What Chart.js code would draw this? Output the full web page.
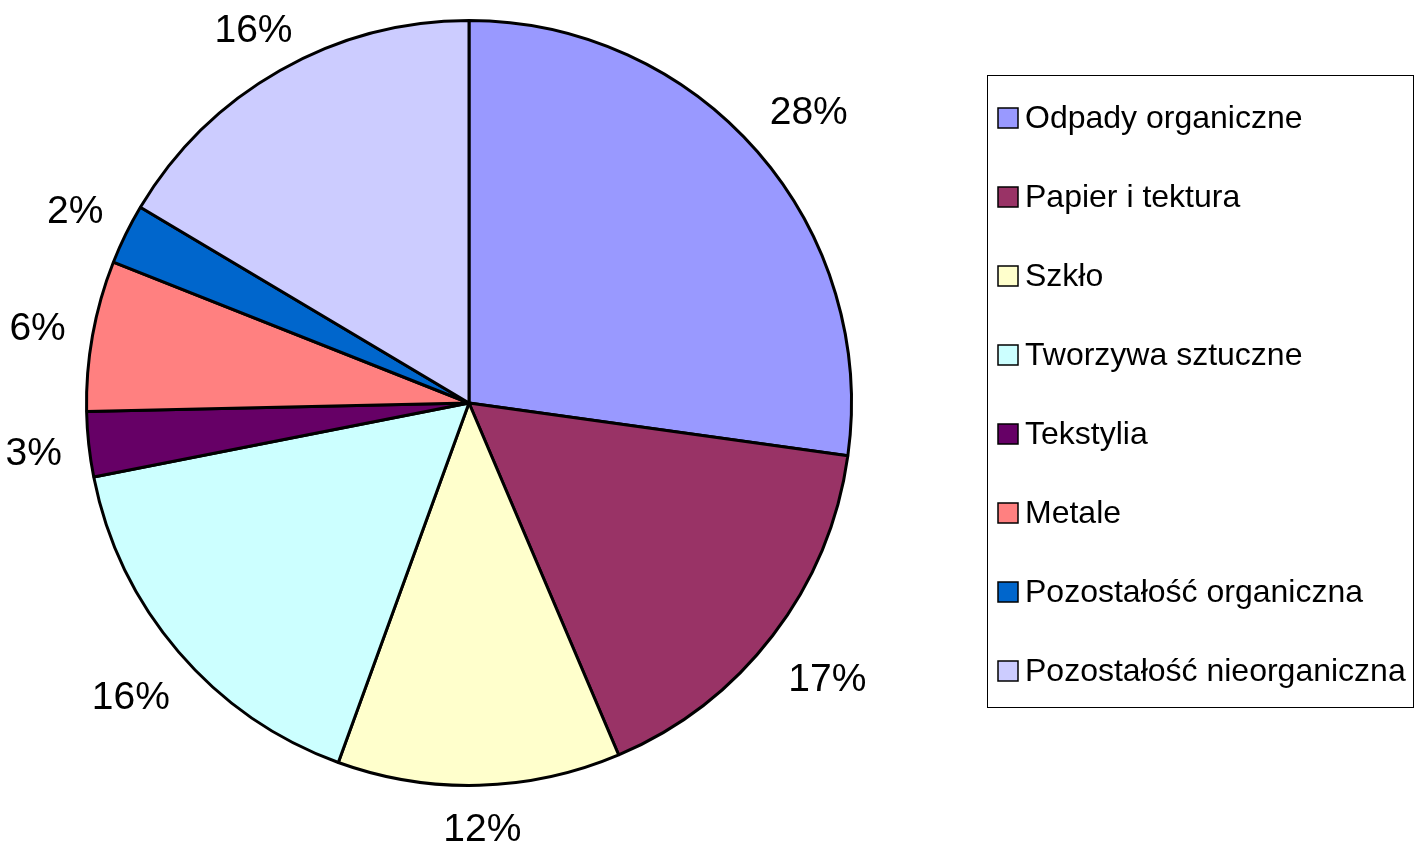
<!DOCTYPE html>
<html>
<head>
<meta charset="utf-8">
<script src="https://cdn.jsdelivr.net/npm/chart.js@4/dist/chart.umd.min.js"></script>
<style>
  html, body { margin: 0; padding: 0; background: #fff; }
  #wykres { display: block; }
</style>
</head>
<body>
<canvas id="wykres" width="1415" height="850"></canvas>
<script>
// kategorie odpadow
const kategorie = [
    "Odpady organiczne",
    "Papier i tektura",
    "Szkło",
    "Tworzywa sztuczne",
    "Tekstylia",
    "Metale",
    "Pozostałość organiczna",
    "Pozostałość nieorganiczna"
];
// udzialy (wielkosc wycinkow)
const udzialy = [27.2, 16.4, 11.95, 16.35, 2.75, 6.35, 2.55, 16.45];
// etykiety procentowe pokazane przy wycinkach
const etykiety = ["28%", "17%", "12%", "16%", "3%", "6%", "2%", "16%"];
const kolory = ["#9999FF", "#993366", "#FFFFCC", "#CCFFFF", "#660066", "#FF8080", "#0066CC", "#CCCCFF"];

const czcionka = "'Liberation Sans', Arial, sans-serif";

// etykiety procentow na zewnatrz wycinkow
const etykietyPlugin = {
    id: "etykietyProcent",
    afterDatasetsDraw(chart) {
        const ctx = chart.ctx;
        const meta = chart.getDatasetMeta(0);
        ctx.save();
        ctx.font = "39px " + czcionka;
        ctx.fillStyle = "#000";
        ctx.textAlign = "center";
        ctx.textBaseline = "middle";
        meta.data.forEach((luk, i) => {
            const p = luk.getProps(["x", "y", "startAngle", "endAngle", "outerRadius"], true);
            const kat = (p.startAngle + p.endAngle) / 2;
            const cx = Math.cos(kat), sy = Math.sin(kat);
            const w = ctx.measureText(etykiety[i]).width;
            const r = p.outerRadius + 28 + (w / 2) * Math.abs(cx) + 12 * Math.abs(sy);
            let x = p.x + r * cx;
            let y = p.y + r * sy;
            if (y < 27) y = 27;
            ctx.fillText(etykiety[i], x + 2, y + 4);
        });
        ctx.restore();
    }
};

// legenda w ramce po prawej stronie
const legendaPlugin = {
    id: "legendaRamka",
    afterDraw(chart) {
        const ctx = chart.ctx;
        const lewo = 987, gora = 75, prawo = 1413, dol = 707;
        const wiersz = (dol - gora) / kategorie.length;
        ctx.save();
        ctx.strokeStyle = "#000";
        ctx.lineWidth = 1;
        ctx.strokeRect(lewo + 0.5, gora + 0.5, prawo - lewo, dol - gora);
        ctx.font = "32px " + czcionka;
        ctx.textAlign = "left";
        ctx.textBaseline = "middle";
        kategorie.forEach((nazwa, i) => {
            const y = Math.round(gora + wiersz * (i + 0.5) + 3);
            ctx.fillStyle = kolory[i];
            ctx.fillRect(998, y - 10, 20, 20);
            ctx.strokeStyle = "#000";
            ctx.lineWidth = 1.5;
            ctx.strokeRect(998, y - 10, 20, 20);
            ctx.fillStyle = "#000";
            ctx.fillText(nazwa, 1025, y + 1);
        });
        ctx.restore();
    }
};

const ctx = document.getElementById("wykres").getContext("2d");
const wykres = new Chart(ctx, {
    type: "pie",
    data: {
        labels: kategorie,
        datasets: [{
            data: udzialy,
            backgroundColor: kolory,
            borderColor: "#000",
            borderWidth: 3
        }]
    },
    options: {
        responsive: false,
        animation: false,
        layout: {
            padding: { left: 85, right: 562, top: 19, bottom: 63 }
        },
        plugins: {
            legend: { display: false },
            tooltip: { enabled: false }
        }
    },
    plugins: [etykietyPlugin, legendaPlugin]
});
</script>
</body>
</html>
